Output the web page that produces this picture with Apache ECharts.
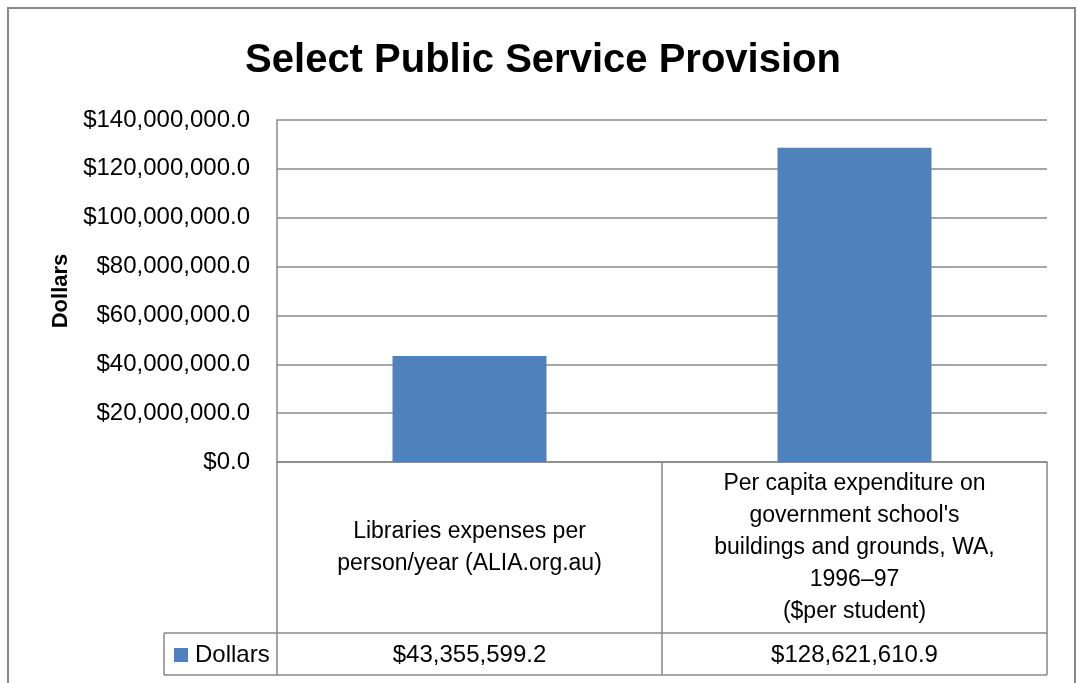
<!DOCTYPE html>
<html>
<head>
<meta charset="utf-8">
<script src="https://cdn.jsdelivr.net/npm/echarts@6/dist/echarts.min.js"></script>
<style>
html,body{margin:0;padding:0;background:#fff;}
#chart{width:1077px;height:683px;}
</style>
</head>
<body>
<div id="chart"></div>
<script>
var titleText = 'Select Public Service Provision';
var categories = [
  'Libraries expenses per\nperson/year (ALIA.org.au)',
  "Per capita expenditure on\ngovernment school's\nbuildings and grounds, WA,\n1996\u201397\n($per student)"
];
var seriesName = 'Dollars';
var values = [43355599.2, 128621610.9];
var yMin = 0, yMax = 140000000, yStep = 20000000;

function money(v){
  return '$' + Number(v).toLocaleString('en-US',{minimumFractionDigits:1,maximumFractionDigits:1});
}

var FONT = '"Liberation Sans", Arial, sans-serif';
var GRAY = '#888888';
var BLUE = '#4F81BD';

var chart = echarts.init(document.getElementById('chart'), null, {renderer:'canvas'});

var gridL = 277, gridR = 1047, gridT = 120, gridB = 462;
var rowDiv = 633, tableBot = 675, legendLeft = 164;

chart.setOption({
  animation:false,
  backgroundColor:'#ffffff',
  title:{
    text:titleText,
    left:538,
    textAlign:'center',
    top:36,
    textStyle:{fontFamily:FONT,fontWeight:'bold',fontSize:40,color:'#000'}
  },
  legend:{
    data:[seriesName],
    left:174,
    top:643,
    padding:0,
    icon:'rect',
    itemWidth:14,
    itemHeight:14,
    itemGap:6,
    textStyle:{fontFamily:FONT,fontSize:24,color:'#000',padding:[0,0,0,2]}
  },
  grid:{left:gridL,right:1077-gridR,top:gridT,bottom:683-gridB,containLabel:false},
  xAxis:[{
    type:'category',
    data:categories,
    axisLine:{show:true,lineStyle:{color:GRAY,width:1.5}},
    axisTick:{show:true,length:tableBot-gridB,inside:false,alignWithLabel:false,lineStyle:{color:GRAY,width:1.5}},
    axisLabel:{
      interval:0,
      margin:86,
      verticalAlign:'middle',
      align:'center',
      fontFamily:FONT,fontSize:23,color:'#000',lineHeight:32
    },
    splitLine:{show:false}
  },{
    type:'category',
    data:values.map(money),
    position:'bottom',
    offset:rowDiv-gridB,
    axisLine:{show:false},
    axisTick:{show:false},
    axisLabel:{interval:0,margin:22,verticalAlign:'middle',fontFamily:FONT,fontSize:24,color:'#000'}
  }],
  yAxis:{
    type:'value',
    min:yMin,max:yMax,interval:yStep,
    name:seriesName,
    nameLocation:'middle',
    nameRotate:90,
    nameGap:gridL-72,
    nameTextStyle:{fontFamily:FONT,fontWeight:'bold',fontSize:22,color:'#000'},
    axisLine:{show:true,lineStyle:{color:GRAY,width:1.5}},
    axisTick:{show:false},
    axisLabel:{formatter:money,margin:27,fontFamily:FONT,fontSize:24,color:'#000'},
    splitLine:{show:true,lineStyle:{color:GRAY,width:1.5}}
  },
  series:[{
    name:seriesName,
    type:'bar',
    data:values,
    barWidth:'40%',
    itemStyle:{color:BLUE}
  }],
  graphic:[
    {type:'rect',shape:{x:8,y:8,width:1067,height:720},style:{fill:'none',stroke:GRAY,lineWidth:2},silent:true},
    {type:'line',shape:{x1:legendLeft,y1:rowDiv,x2:gridR,y2:rowDiv},style:{stroke:GRAY,lineWidth:1.5},silent:true},
    {type:'line',shape:{x1:legendLeft,y1:tableBot,x2:gridR,y2:tableBot},style:{stroke:GRAY,lineWidth:1.5},silent:true},
    {type:'line',shape:{x1:legendLeft,y1:rowDiv,x2:legendLeft,y2:tableBot},style:{stroke:GRAY,lineWidth:1.5},silent:true}
  ]
});
</script>
</body>
</html>
